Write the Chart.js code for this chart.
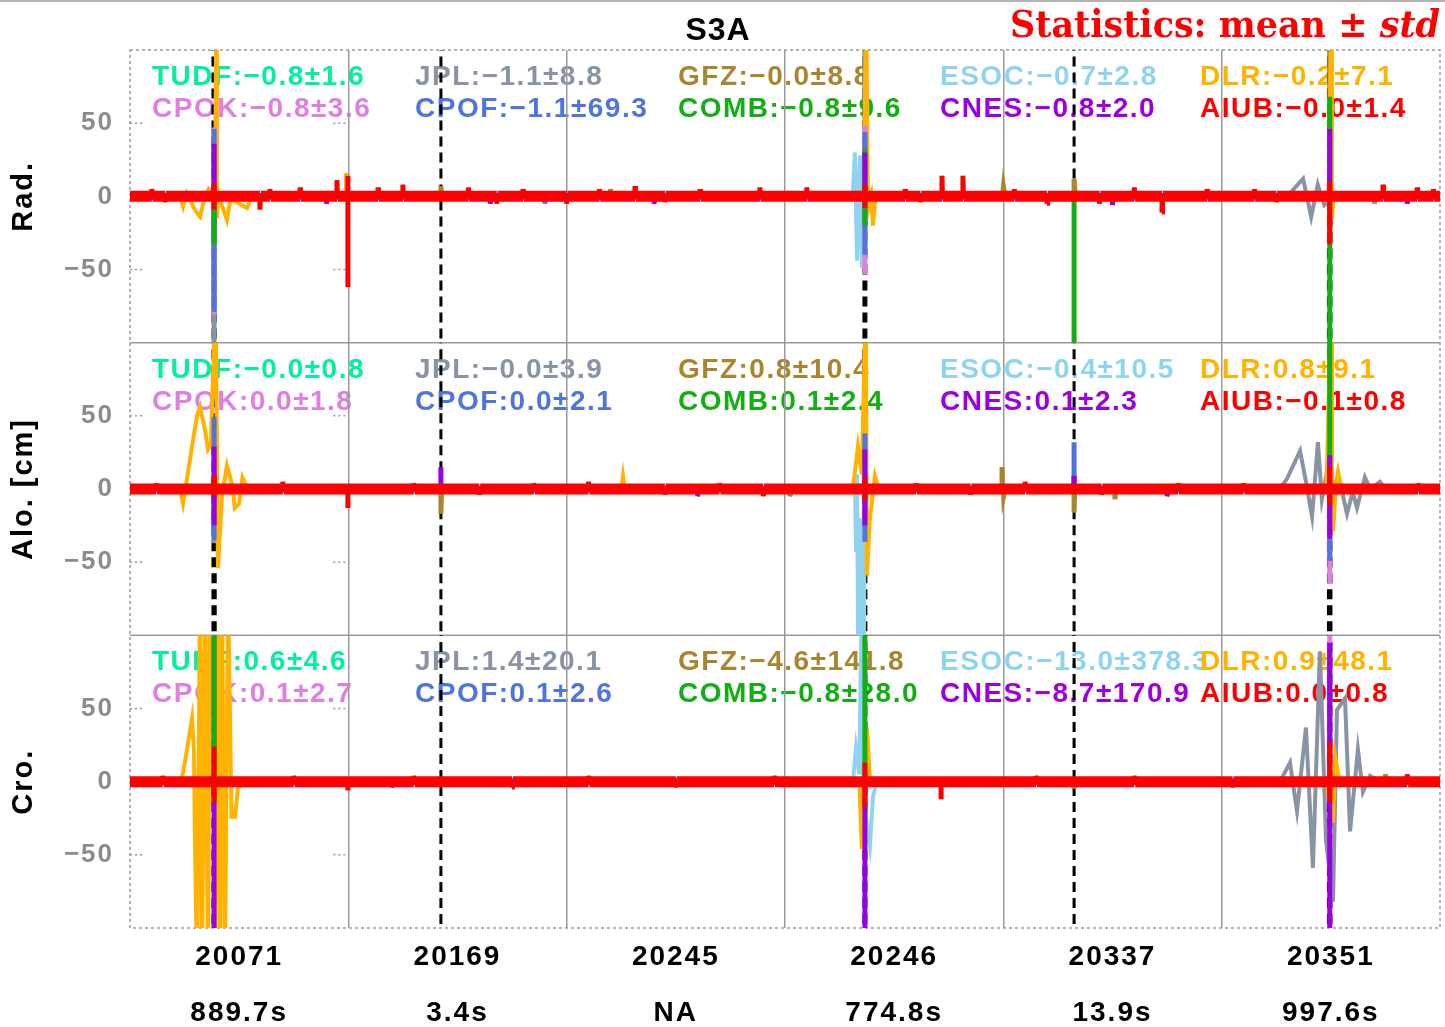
<!DOCTYPE html>
<html>
<head>
<meta charset="utf-8">
<title>S3A</title>
<script src="https://cdn.jsdelivr.net/npm/chart.js@4.4.1/dist/chart.umd.min.js"></script>
<style>
  html, body { margin: 0; padding: 0; background: #fff; }
  canvas { display: block; }
</style>
</head>
<body>
<canvas id="orbitChart" width="1445" height="1027"></canvas>
<script>
// analysis centres, in legend order (first row then second row)
const CENTERS = ['TUDF', 'JPL', 'GFZ', 'ESOC', 'DLR', 'CPOK', 'CPOF', 'COMB', 'CNES', 'AIUB'];
const COLORS = ['#00f0a0', '#8894a6', '#a8862e', '#8fd3ee', '#ffb300',
                '#de80de', '#4f74e0', '#13ae13', '#9b00e0', '#ff0000'];
// topmost first
const DRAW_ORDER = ['AIUB', 'CNES', 'COMB', 'CPOF', 'CPOK', 'DLR', 'GFZ', 'ESOC', 'TUDF', 'JPL'];

// x axis: one slot per day (x = slot index + fraction of day)
const DAY_LABELS = ['20071', '20169', '20245', '20246', '20337', '20351'];
const MANEUVER_LABELS = ['889.7s', '3.4s', 'NA', '774.8s', '13.9s', '997.6s'];
const MANEUVER_START = [0.380, 1.424, null, 3.3615, 4.324, 5.489];
const Y_TICKS = [-50, 0, 50];

// mean / std per centre and component [cm]
const RAD_MEAN = ['\u22120.8', '\u22121.1', '\u22120.0', '\u22120.7', '\u22120.2', '\u22120.8', '\u22121.1', '\u22120.8', '\u22120.8', '\u22120.0'];
const RAD_STD  = ['1.6', '8.8', '8.8', '2.8', '7.1', '3.6', '69.3', '9.6', '2.0', '1.4'];
const ALO_MEAN = ['\u22120.0', '\u22120.0', '0.8', '\u22120.4', '0.8', '0.0', '0.0', '0.1', '0.1', '\u22120.1'];
const ALO_STD  = ['0.8', '3.9', '10.4', '10.5', '9.1', '1.8', '2.1', '2.4', '2.3', '0.8'];
const CRO_MEAN = ['0.6', '1.4', '\u22124.6', '\u221213.0', '0.9', '0.1', '0.1', '\u22120.8', '\u22128.7', '0.0'];
const CRO_STD  = ['4.6', '20.1', '141.8', '378.3', '48.1', '2.7', '2.6', '28.0', '170.9', '0.8'];

// differences [cm], radial
const RAD_TUDF = [[0, 0], [6, 0]];
const RAD_JPL = [[0, 0], [0.385, 0], [0.385, -130], [0.385, 0], [3.366, 0], [3.366, 130], [3.366, 0],
  [5.30, 0], [5.373, 12], [5.41, -14], [5.44, 8], [5.47, -6], [5.52, 0], [5.7, 0], [5.7, -5], [5.71, 0], [6, 0]];
const RAD_GFZ = [[0, 0], [1.424, 0], [1.424, 7], [1.43, 0], [2.2, 0], [2.2, 5], [2.21, 0],
  [3.994, 0], [4.0, 9], [4.01, 0], [4.324, 0], [4.324, 12], [4.334, 0], [5.495, 0], [5.495, 130],
  [5.497, 0], [6, 0]];
const RAD_ESOC = [[0, 0], [3.31, 0], [3.32, 30], [3.33, -44], [3.343, 28], [3.352, -49], [3.36, 0], [6, 0]];
const RAD_DLR = [[0, 0], [0.229, 0], [0.243, -7], [0.26, 2], [0.30, -10], [0.321, -14], [0.34, -2],
  [0.36, 5], [0.39, 0], [0.395, 130], [0.398, -15], [0.405, 0], [0.425, -8], [0.444, -16], [0.46, -2],
  [0.50, -5], [0.536, -8], [0.56, 0], [0.989, 0], [0.99, 16], [0.995, 0], [3.36, 0], [3.372, 130],
  [3.38, -10], [3.395, 0], [3.403, -20], [3.415, 0], [5.49, 0], [5.502, 130], [5.505, -15],
  [5.51, -5], [5.52, 0], [6, 0]];
const RAD_CPOK = [[0, 0], [0.385, 0], [0.385, 47], [0.385, -81], [0.385, 0], [3.366, 0], [3.366, 48],
  [3.366, -53], [3.366, 0], [6, 0]];
const RAD_CPOF = [[0, 0], [0.385, 0], [0.385, 46], [0.385, -79], [0.385, 0], [1.9, 0], [1.9, -5],
  [1.91, 0], [3.366, 0], [3.366, 44], [3.366, -40], [3.366, 0], [6, 0]];
const RAD_COMB = [[0, 0], [0.385, 0], [0.385, -33], [0.385, 0], [3.366, 0], [3.366, 32], [3.366, -20],
  [3.366, 0], [4.324, 0], [4.324, -130], [4.324, 0], [5.495, 0], [5.495, 68], [5.495, -130],
  [5.495, 0], [6, 0]];
const RAD_CNES = [[0, 0], [0.385, 0], [0.385, 36], [0.385, 0], [0.9, 0], [0.9, -5], [0.91, 0],
  [1.65, 0], [1.65, -5], [1.66, 0], [2.4, 0], [2.4, -5], [2.41, 0], [3.366, 0], [3.366, 30],
  [3.366, 0], [4.5, 0], [4.5, -6], [4.51, 0], [5.495, 0], [5.495, 46], [5.495, 0], [5.85, 0],
  [5.85, -5], [5.86, 0], [6, 0]];
const RAD_AIUB = [[0, 0], [0.1, 0], [0.1, 5], [0.104, 0], [0.16, 0], [0.16, -4], [0.164, 0],
  [0.385, 0], [0.385, 9], [0.385, -9], [0.385, 0], [0.595, 0], [0.595, -9],
  [0.6, 0], [0.641, 0], [0.641, 5], [0.645, 0], [0.779, 0], [0.779, 6], [0.783, 0], [0.948, 0],
  [0.948, 11], [0.952, 0], [0.998, 0], [0.998, 14], [0.998, -62], [0.998, 0], [1.136, 0], [1.136, 6],
  [1.14, 0], [1.25, 0], [1.25, 8], [1.254, 0], [1.55, 0], [1.55, 6], [1.554, 0], [1.68, 0], [1.68, -5],
  [1.684, 0], [1.8, 0], [1.8, 5], [1.804, 0], [2.0, 0], [2.0, -5], [2.004, 0], [2.15, 0], [2.15, 5],
  [2.154, 0], [2.313, 0], [2.313, 7], [2.317, 0], [2.45, 0], [2.45, -4], [2.454, 0], [2.611, 0],
  [2.611, 5], [2.615, 0], [2.885, 0], [2.885, 6], [2.889, 0], [3.1, 0], [3.1, 6], [3.104, 0],
  [3.366, 0], [3.366, 8], [3.366, -8], [3.366, 0], [3.55, 0], [3.55, 5], [3.554, 0], [3.62, 0],
  [3.62, -4], [3.624, 0], [3.719, 0], [3.719, 14], [3.723, 0], [3.815, 0], [3.815, 14], [3.819, 0],
  [4.05, 0], [4.05, 5], [4.054, 0], [4.2, 0], [4.2, -5], [4.204, 0], [4.44, 0], [4.44, -5], [4.444, 0],
  [4.6, 0], [4.6, 6], [4.604, 0], [4.727, 0], [4.727, -11], [4.731, 0], [4.933, 0], [4.933, 5],
  [4.937, 0], [5.15, 0], [5.15, 5], [5.154, 0], [5.25, 0], [5.25, -4], [5.254, 0], [5.495, 0],
  [5.495, 10], [5.495, -33], [5.495, 0], [5.739, 0], [5.739, 8], [5.743, 0], [5.895, 0], [5.895, 6],
  [5.899, 0], [5.97, 0], [5.97, 5], [5.974, 0], [6, 0]];

// along-track
const ALO_TUDF = [[0, 0], [6, 0]];
const ALO_JPL = [[0, 0], [0.385, 0], [0.385, -37], [0.385, 0], [3.366, 0], [3.366, 74], [3.366, 0],
  [5.267, 0], [5.299, 7], [5.359, 26], [5.386, 5], [5.414, -19], [5.441, 32], [5.459, -7], [5.48, 10],
  [5.51, -5], [5.54, 6], [5.574, -17], [5.60, -2], [5.62, -13], [5.656, 8], [5.68, 0], [5.725, 5],
  [5.75, 0], [6, 0]];
const ALO_GFZ = [[0, 0], [1.424, 0], [1.424, -17], [1.43, 0], [3.023, 0], [3.023, -5], [3.03, 0],
  [3.994, 0], [3.994, 15], [4.0, -7], [4.01, 0], [4.324, 0], [4.324, 9], [4.324, -16], [4.33, 0],
  [4.511, 0], [4.511, -7], [4.52, 0], [5.495, 0], [5.495, 130], [5.497, 0], [6, 0]];
const ALO_ESOC = [[0, 0], [3.311, 0], [3.32, 10], [3.325, -43], [3.33, 10], [3.336, -130], [3.343, -20],
  [3.348, -130], [3.355, -25], [3.36, -130], [3.366, 10], [3.372, 0], [6, 0]];
const ALO_DLR = [[0, 0], [0.229, 0], [0.243, -10], [0.261, 7], [0.284, 29], [0.307, 50], [0.321, 56],
  [0.344, 40], [0.357, 27], [0.37, 30], [0.392, 130], [0.403, -54], [0.421, -5], [0.444, 16],
  [0.47, 2], [0.48, -13], [0.50, -10], [0.515, 8], [0.54, 0], [2.25, 0], [2.258, 9], [2.266, 0],
  [3.311, 0], [3.334, 29], [3.352, 10], [3.37, 130], [3.375, -59], [3.389, -20], [3.412, 9], [3.43, 0],
  [5.48, 0], [5.502, 130], [5.505, -10], [5.51, -29], [5.525, 5], [5.533, 12], [5.55, 0], [6, 0]];
const ALO_CPOK = [[0, 0], [5.495, 0], [5.495, -65], [5.495, 0], [6, 0]];
const ALO_CPOF = [[0, 0], [0.385, 0], [0.385, 49], [0.385, -35], [0.385, 0], [3.366, 0], [3.366, 38],
  [3.366, -36], [3.366, 0], [4.324, 0], [4.324, 32], [4.324, 0], [5.495, 0], [5.495, -49],
  [5.495, 0], [6, 0]];
const ALO_COMB = [[0, 0], [5.495, 0], [5.495, 130], [5.495, 0], [6, 0]];
const ALO_CNES = [[0, 0], [0.385, 0], [0.385, 29], [0.385, -25], [0.385, 0], [1.424, 0], [1.424, 15],
  [1.424, 0], [2.6, 0], [2.6, -5], [2.61, 0], [3.366, 0], [3.366, 27], [3.366, -25], [3.366, 0],
  [4.324, 0], [4.324, 9], [4.324, 0], [4.75, 0], [4.75, -5], [4.76, 0], [5.495, 0], [5.495, 23],
  [5.495, -34], [5.495, 0], [6, 0]];
const ALO_AIUB = [[0, 0], [0.12, 0], [0.12, 4], [0.124, 0], [0.385, 0], [0.385, 9], [0.385, -5],
  [0.385, 0], [0.7, 0], [0.7, 5], [0.704, 0], [0.998, 0], [0.998, -13], [0.998, 0], [1.3, 0],
  [1.3, 4], [1.304, 0], [1.6, 0], [1.6, -4], [1.604, 0], [1.85, 0], [1.85, 4], [1.854, 0], [2.1, 0],
  [2.1, 5], [2.104, 0], [2.45, 0], [2.45, -4], [2.454, 0], [2.7, 0], [2.7, 4], [2.704, 0], [2.9, 0],
  [2.9, -5], [2.904, 0], [3.366, 0], [3.366, 8], [3.366, -8], [3.366, 0], [3.6, 0], [3.6, 4],
  [3.604, 0], [3.85, 0], [3.85, -4], [3.854, 0], [4.1, 0], [4.1, 5], [4.104, 0], [4.45, 0],
  [4.45, -4], [4.454, 0], [4.8, 0], [4.8, 4], [4.804, 0], [5.1, 0], [5.1, 4], [5.104, 0], [5.495, 0],
  [5.495, 15], [5.495, -11], [5.495, 0], [5.9, 0], [5.9, 4], [5.904, 0], [6, 0]];

// cross-track
const CRO_TUDF = [[0, 0], [6, 0]];
const CRO_JPL = [[0, 0], [5.267, 0], [5.313, 13], [5.345, -20], [5.386, 37], [5.418, -59], [5.45, 89],
  [5.478, -40], [5.51, -82], [5.528, 49], [5.565, 57], [5.588, -34], [5.624, 22], [5.647, -7],
  [5.68, 4], [5.725, 0], [6, 0]];
const CRO_GFZ = [[0, 0], [4.324, 0], [4.324, -5], [4.33, 0], [5.75, 0], [5.75, 5], [5.76, 0], [6, 0]];
const CRO_ESOC = [[0, 0], [3.311, 0], [3.325, 23], [3.34, 5], [3.352, 130], [3.358, 0], [3.375, -30],
  [3.389, -44], [3.403, -10], [3.42, 0], [6, 0]];
const CRO_DLR = [[0, 0], [0.229, 0], [0.243, 6], [0.261, 22], [0.284, 43], [0.293, 20], [0.298, -46],
  [0.307, -130], [0.321, 130], [0.33, -130], [0.344, 130], [0.357, -130], [0.366, 130], [0.38, 130],
  [0.389, -130], [0.403, 130], [0.412, -130], [0.421, 130], [0.435, -130], [0.449, 130], [0.465, -24],
  [0.481, -24], [0.495, -4], [0.536, 0], [3.34, 0], [3.352, -46], [3.36, 0], [3.375, 37], [3.39, 0],
  [5.48, 0], [5.51, -28], [5.52, 17], [5.54, 0], [6, 0]];
const CRO_CPOK = [[0, 0], [5.495, 0], [5.495, 130], [5.495, 0], [6, 0]];
const CRO_CPOF = [[0, 0], [0.385, 0], [0.385, 130], [0.385, 0], [5.495, 0], [5.495, 90], [5.495, 0], [6, 0]];
const CRO_COMB = [[0, 0], [0.385, 0], [0.385, 130], [0.385, 0], [3.366, 0], [3.366, 130], [3.366, 0], [6, 0]];
const CRO_CNES = [[0, 0], [0.385, 0], [0.385, -130], [0.385, 0], [1.2, 0], [1.2, -4], [1.21, 0],
  [3.366, 0], [3.366, -130], [3.366, 0], [5.495, 0], [5.495, 95], [5.495, -130], [5.495, 0], [6, 0]];
const CRO_AIUB = [[0, 0], [0.15, 0], [0.15, 4], [0.154, 0], [0.385, 0], [0.385, 24], [0.385, -14],
  [0.385, 0], [0.75, 0], [0.75, 4], [0.754, 0], [0.998, 0], [0.998, -6], [0.998, 0], [1.3, 0],
  [1.3, 4], [1.304, 0], [1.75, 0], [1.75, -4], [1.754, 0], [2.1, 0], [2.1, 4], [2.104, 0], [2.5, 0],
  [2.5, -4], [2.504, 0], [2.95, 0], [2.95, 4], [2.954, 0], [3.366, 0], [3.366, 13], [3.366, -17],
  [3.366, 0], [3.715, 0], [3.715, -12], [3.715, 0], [4.15, 0], [4.15, 4], [4.154, 0], [4.6, 0],
  [4.6, 4], [4.604, 0], [5.05, 0], [5.05, -4], [5.054, 0], [5.495, 0], [5.495, 27], [5.495, -14],
  [5.495, 0], [5.85, 0], [5.85, 5], [5.854, 0], [6, 0]];

const PANELS = [
  { id: 'yRad', title: 'Rad.', mean: RAD_MEAN, std: RAD_STD,
    series: [RAD_TUDF, RAD_JPL, RAD_GFZ, RAD_ESOC, RAD_DLR, RAD_CPOK, RAD_CPOF, RAD_COMB, RAD_CNES, RAD_AIUB] },
  { id: 'yAlo', title: 'Alo. [cm]', mean: ALO_MEAN, std: ALO_STD,
    series: [ALO_TUDF, ALO_JPL, ALO_GFZ, ALO_ESOC, ALO_DLR, ALO_CPOK, ALO_CPOF, ALO_COMB, ALO_CNES, ALO_AIUB] },
  { id: 'yCro', title: 'Cro.', mean: CRO_MEAN, std: CRO_STD,
    series: [CRO_TUDF, CRO_JPL, CRO_GFZ, CRO_ESOC, CRO_DLR, CRO_CPOK, CRO_CPOF, CRO_COMB, CRO_CNES, CRO_AIUB] }
];

// start and end of every manoeuvre, one x unit = one day
function maneuverLines() {
  let pts = [];
  MANEUVER_START.forEach((s, i) => {
    const dur = parseFloat(MANEUVER_LABELS[i]);
    if (s === null || isNaN(dur)) return;
    [s, s + dur / 86400].forEach(x => {
      pts.push([x, -130], [x, 130], [x, null]);
    });
  });
  return pts;
}

// thick band along zero, thinner excursions, widest for vertical jumps
function segWidth(ctx, band) {
  const a = ctx.p0.parsed, b = ctx.p1.parsed;
  if (Math.abs(a.y) < 2.5 && Math.abs(b.y) < 2.5) return band;
  if (a.x === b.x) return 5;
  return 4;
}

let datasets = [];
PANELS.forEach(panel => {
  CENTERS.forEach((c, i) => {
    const band = c === 'AIUB' ? 11 : 6;
    datasets.push({
      label: c,
      data: panel.series[i],
      yAxisID: panel.id,
      borderColor: COLORS[i],
      borderWidth: 4,
      pointRadius: 0,
      tension: 0,
      order: DRAW_ORDER.indexOf(c),
      segment: { borderWidth: ctx => segWidth(ctx, band) }
    });
  });
  datasets.push({
    label: 'manoeuvre',
    data: maneuverLines(),
    yAxisID: panel.id,
    borderColor: '#000',
    borderWidth: 3,
    borderDash: [10, 6],
    pointRadius: 0,
    order: 20
  });
});

const sansBold = size => ({ family: 'Liberation Sans', size: size, weight: 'bold' });

function yScale(panel) {
  return {
    type: 'linear',
    position: 'left',
    stack: 'panels',
    stackWeight: 1,
    min: -100,
    max: 100,
    afterFit: s => { s.width = 130; },
    afterBuildTicks: s => { s.ticks = Y_TICKS.map(v => ({ value: v })); },
    grid: { display: false, drawTicks: false },
    border: { display: false },
    ticks: {
      padding: 16,
      color: '#8c8c8c',
      font: sansBold(26),
      callback: v => v < 0 ? '\u2212' + Math.abs(v) : String(v)
    },
    title: {
      display: true,
      text: panel.title,
      color: '#000',
      font: sansBold(29),
      padding: { top: 7, bottom: 0 }
    }
  };
}

// frame, tick marks and the statistics text go under the curves
const framePlugin = {
  id: 'frame',
  beforeDraw(chart) {
    const ctx = chart.ctx;
    const area = chart.chartArea;
    const x = chart.scales.x;
    ctx.save();
    ctx.letterSpacing = '1.5px';
    ctx.font = 'bold 28px "Liberation Sans"';
    ctx.textAlign = 'left';
    ctx.textBaseline = 'alphabetic';
    const colX = [152, 415, 678, 940, 1200];
    PANELS.forEach(panel => {
      const ys = chart.scales[panel.id];
      CENTERS.forEach((c, i) => {
        ctx.fillStyle = COLORS[i];
        const row = Math.floor(i / 5);
        ctx.fillText(c + ':' + panel.mean[i] + '\u00b1' + panel.std[i], colX[i % 5], ys.top + 35 + row * 32);
      });
      // short dotted ticks on the first day slot
      ctx.strokeStyle = '#999';
      ctx.lineWidth = 1.5;
      ctx.setLineDash([2, 3]);
      Y_TICKS.forEach(v => {
        const py = ys.getPixelForValue(v);
        const xr = x.getPixelForValue(1);
        ctx.beginPath();
        ctx.moveTo(area.left, py); ctx.lineTo(area.left + 15, py);
        ctx.moveTo(xr - 15, py); ctx.lineTo(xr, py);
        ctx.stroke();
      });
    });
    // panel separators
    ctx.setLineDash([]);
    ctx.strokeStyle = '#9a9a9a';
    ctx.lineWidth = 1.5;
    ['yRad', 'yAlo'].forEach(id => {
      const b = chart.scales[id].bottom;
      ctx.beginPath();
      ctx.moveTo(area.left, b); ctx.lineTo(area.right, b);
      ctx.stroke();
    });
    // dotted outer box
    ctx.setLineDash([3, 3]);
    ctx.strokeRect(area.left, area.top, area.right - area.left, area.bottom - area.top);
    // thin rule along the top of the figure
    ctx.setLineDash([]);
    ctx.beginPath();
    ctx.moveTo(0, 1); ctx.lineTo(chart.width, 1);
    ctx.stroke();
    ctx.restore();
    ctx.letterSpacing = '2px';
  },
  afterDraw(chart) {
    const ctx = chart.ctx;
    ctx.save();
    ctx.letterSpacing = '1px';
    ctx.fillStyle = '#000';
    ctx.font = 'bold 32px "Liberation Sans"';
    ctx.textAlign = 'center';
    ctx.textBaseline = 'alphabetic';
    ctx.fillText('S3A', 718, 40);

    // red heading, fitted to span x 1010..1440
    ctx.letterSpacing = '0px';
    ctx.fillStyle = '#ff0000';
    ctx.textAlign = 'left';
    const head = 'bold 38px "DejaVu Serif"';
    const tail = 'italic bold 38px "DejaVu Serif"';
    ctx.font = head;
    const w1 = ctx.measureText('Statistics: mean \u00b1 ').width;
    ctx.font = tail;
    const w2 = ctx.measureText('std').width;
    const sx = 430 / (w1 + w2);
    ctx.translate(1010, 37);
    ctx.scale(sx, 1);
    ctx.font = head;
    ctx.fillText('Statistics: mean \u00b1 ', 0, 0);
    ctx.font = tail;
    ctx.fillText('std', w1, 0);
    ctx.restore();
  }
};

const scales = {
  x: {
    type: 'linear',
    min: 0,
    max: 6,
    afterFit: s => { s.height = 99; },
    afterBuildTicks: s => {
      let t = [];
      for (let v = 0.5; v < 6; v += 0.5) t.push({ value: v });
      s.ticks = t;
    },
    grid: {
      drawTicks: false,
      lineWidth: 1.5,
      color: ctx => (ctx.tick && Number.isInteger(ctx.tick.value)) ? '#9a9a9a' : 'rgba(0,0,0,0)'
    },
    border: { display: false },
    ticks: {
      padding: 1,
      autoSkip: false,
      maxRotation: 0,
      color: '#000',
      font: { family: 'Liberation Sans', size: 28, weight: 'bold', lineHeight: 2 },
      callback: v => {
        if (Number.isInteger(v)) return '';
        const i = Math.floor(v);
        return [DAY_LABELS[i], MANEUVER_LABELS[i]];
      }
    }
  }
};
// later stacked axes are placed higher up
scales.yCro = yScale(PANELS[2]);
scales.yAlo = yScale(PANELS[1]);
scales.yRad = yScale(PANELS[0]);

new Chart(document.getElementById('orbitChart'), {
  type: 'line',
  data: { datasets: datasets },
  options: {
    responsive: false,
    animation: false,
    events: [],
    layout: { padding: { top: 50, right: 5, left: 0, bottom: 0 } },
    plugins: {
      legend: { display: false },
      tooltip: { enabled: false }
    },
    scales: scales
  },
  plugins: [framePlugin]
});
</script>
</body>
</html>
